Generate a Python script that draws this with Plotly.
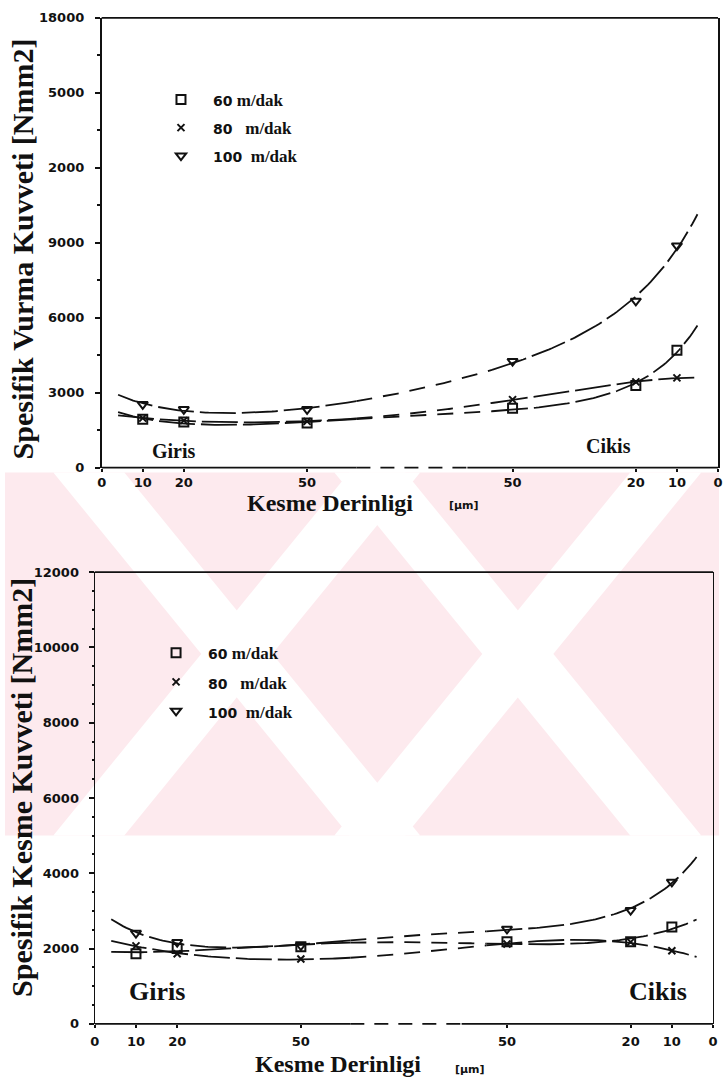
import numpy as np
import plotly.graph_objects as go

W, H = 724, 1090

# ---------------- data ----------------
positions = [10, 20, 50, 100, 130, 140]          # Giris 10,20,50 | Cikis 50,20,10
x_tick_vals = [0, 10, 20, 50, 100, 130, 140, 150]
x_tick_text = ["0", "10", "20", "50", "50", "20", "10", "0"]

series_names = ["60", "80", "100"]
series_gaps = ["&nbsp;", "&nbsp;&nbsp;&nbsp;", "&nbsp;&nbsp;"]

vurma_60 = [1930, 1820, 1780, 2370, 3280, 4700]
vurma_80 = [1980, 1880, 1850, 2720, 3430, 3590]
vurma_100 = [2530, 2330, 2330, 4260, 6670, 8880]

kesme_60 = [1860, 2000, 2050, 2180, 2180, 2570]
kesme_80 = [2070, 1860, 1720, 2120, 2170, 1940]
kesme_100 = [2410, 2170, 2080, 2520, 3020, 3770]

vurma_y_ticks = [0, 3000, 6000, 9000, 12000, 15000, 18000]
vurma_y_text = ["0", "3000", "6000", "9000", "2000", "5000", "18000"]
kesme_y_ticks = [0, 2000, 4000, 6000, 8000, 10000, 12000]
kesme_y_text = ["0", "2000", "4000", "6000", "8000", "10000", "12000"]

# ---------------- style ----------------
SERIF = "Liberation Serif"
SANS = "DejaVu Sans"
INK = "#111111"
PINK = "#fdeaee"
symbols = ["square-open", "x-thin", "triangle-down-open"]
msizes = [9, 7, 9]


def px_x(x):
    return x / W


def px_y(y):
    return 1 - y / H


fig = go.Figure()


def legend_name(num, gap, size_num, size_txt):
    return (f'<span style="font-family:{SANS};font-size:{size_num}px"><b>{num}</b></span>'
            f'{gap}<span style="font-family:{SERIF};font-size:{size_txt}px"><b>m/dak</b></span>')


def add_panel(xa, ya, values, legend_id, x_start, x_end):
    for i, vals in enumerate(values):
        # least-squares trend (quartic in log space) through the measured points
        coef = np.polyfit(positions, np.log(vals), 4)
        parts = [(x_start, 62, "36px,6px"), (62, 95, "16px,11px"), (95, x_end, "36px,6px")]
        for a, b, dash in parts:
            xs = np.linspace(a, b, 80)
            fig.add_trace(go.Scatter(
                x=xs, y=np.exp(np.polyval(coef, xs)), mode="lines", xaxis=xa, yaxis=ya,
                line=dict(color=INK, width=1.8, dash=dash), showlegend=False,
                hoverinfo="skip"))
        fig.add_trace(go.Scatter(
            x=positions, y=vals, mode="markers", xaxis=xa, yaxis=ya,
            marker=dict(symbol=symbols[i], size=msizes[i], color=INK,
                        line=dict(color=INK, width=2)),
            name=legend_name(series_names[i], series_gaps[i], 14, 17),
            legend=legend_id, legendgroup=f"{legend_id}{i}"))


add_panel("x", "y", [vurma_60, vurma_80, vurma_100], "legend", 4, 145)
add_panel("x2", "y2", [kesme_60, kesme_80, kesme_100], "legend2", 4, 146)

tickfont = dict(family=SANS, size=13, color=INK, weight="bold")
axis_common = dict(showgrid=False, zeroline=False, color=INK, tickfont=tickfont,
                   tickcolor=INK)

fig.update_layout(
    width=W, height=H, margin=dict(l=0, r=0, t=0, b=0),
    paper_bgcolor="white", plot_bgcolor="rgba(0,0,0,0)",
    xaxis=dict(domain=[px_x(98), px_x(723)], range=[0, 150], anchor="y",
               tickvals=x_tick_vals, ticktext=x_tick_text, ticks="outside",
               ticklen=3, tickwidth=1.5, showline=False, **axis_common),
    yaxis=dict(domain=[px_y(467), px_y(11)], range=[0, 18000], anchor="x",
               tickvals=vurma_y_ticks, ticktext=vurma_y_text, ticks="outside",
               ticklen=5, tickwidth=1.5, showline=True, mirror=True,
               linecolor=INK, linewidth=1.6, ticklabelstandoff=8,
               minor=dict(dtick=1500, ticks="outside", ticklen=3, tickcolor=INK),
               **axis_common),
    xaxis2=dict(domain=[px_x(91), px_x(718)], range=[0, 150], anchor="y2",
                tickvals=x_tick_vals, ticktext=x_tick_text, ticks="outside",
                ticklen=3, tickwidth=1.5, showline=False, ticklabelstandoff=3,
                **axis_common),
    yaxis2=dict(domain=[px_y(1031), px_y(573)], range=[0, 12000], anchor="x2",
                tickvals=kesme_y_ticks, ticktext=kesme_y_text, ticks="outside",
                ticklen=5, tickwidth=1.5, showline=True, mirror=True,
                linecolor=INK, linewidth=1.4, ticklabelstandoff=7,
                minor=dict(dtick=500, ticks="outside", ticklen=2, tickcolor=INK),
                **axis_common),
    legend=dict(x=px_x(146), y=px_y(76), xanchor="left", yanchor="top",
                bgcolor="rgba(0,0,0,0)", itemwidth=54, tracegroupgap=3,
                font=dict(family=SERIF, size=17, color=INK)),
    legend2=dict(x=px_x(141), y=px_y(637), xanchor="left", yanchor="top",
                 bgcolor="rgba(0,0,0,0)", itemwidth=54, tracegroupgap=4,
                 font=dict(family=SERIF, size=17, color=INK)),
)

shapes = []

# faint pink watermark: pale band crossed by white diagonal stripes
Y0, Y1, SHIFT, HALF = 472, 840, 150, 36
shapes.append(dict(type="rect", xref="paper", yref="paper", x0=0, x1=1,
                   y0=px_y(Y1), y1=px_y(Y0), fillcolor=PINK, line=dict(width=0),
                   layer="below"))


def band(top_center, direction):
    bx = top_center + direction * 2 * SHIFT
    pts = [(top_center - HALF, Y0), (top_center + HALF, Y0), (bx + HALF, Y1), (bx - HALF, Y1)]
    path = "M " + " L ".join(f"{px_x(x):.4f},{px_y(y):.4f}" for x, y in pts) + " Z"
    return dict(type="path", xref="paper", yref="paper", path=path, layer="below",
                fillcolor="white", line=dict(width=0))


for cx in [235, 520]:
    shapes.append(band(cx - SHIFT, +1))
    shapes.append(band(cx + SHIFT, -1))

# frame: top border and broken x-axis baseline
for xr, yr in [("x", "y"), ("x2", "y2")]:
    shapes.append(dict(type="line", xref=f"{xr} domain", yref=f"{yr} domain",
                       x0=0, x1=1, y0=1, y1=1, line=dict(color=INK, width=1.6)))
    for a, b, dash in [(0, 62, "solid"), (62, 89, "14px,10px"), (89, 150, "solid")]:
        shapes.append(dict(type="line", xref=xr, yref=f"{yr} domain", x0=a, x1=b,
                           y0=0, y1=0, line=dict(color=INK, width=1.8, dash=dash)))
fig.update_layout(shapes=shapes)

ann = []


def text(x, y, s, size, family=SERIF, angle=0, anchor="center"):
    ann.append(dict(x=px_x(x), y=px_y(y), xref="paper", yref="paper", text=s,
                    showarrow=False, textangle=angle, xanchor=anchor, yanchor="middle",
                    font=dict(family=family, size=size, color=INK, weight="bold")))


text(18, 245, "Spesifik Vurma Kuvveti [Nmm2]", 30, angle=-90)
text(16, 791, "Spesifik Kesme Kuvveti [Nmm2]", 30, angle=-90)
text(330, 503, "Kesme Derinligi", 24)
text(465, 505, "[µm]", 11, family=SANS)
text(338, 1072, "Kesme Derinligi", 24)
text(472, 1077, "[µm]", 11, family=SANS)
text(171, 450, "Giris", 20)
text(612, 445, "Cikis", 20)
text(154, 998, "Giris", 26)
text(662, 998, "Cikis", 26)
fig.update_layout(annotations=ann)

fig.write_html("out.html")
